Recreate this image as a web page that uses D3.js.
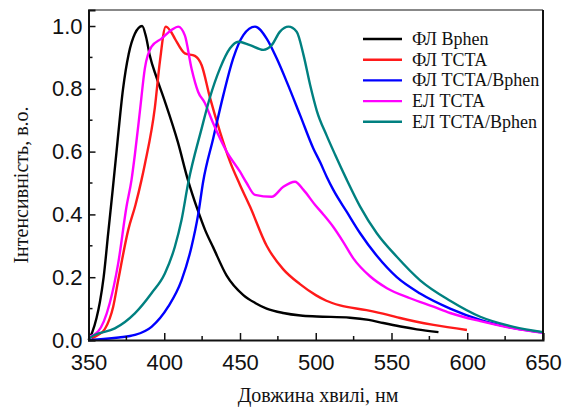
<!DOCTYPE html>
<html>
<head>
<meta charset="utf-8">
<script src="https://cdn.jsdelivr.net/npm/d3@7"></script>
<style>
  body { margin: 0; background: #fff; }
  .tick-label { font-family: "Liberation Sans", Arial, sans-serif; font-size: 22px; fill: #111; }
  .serif { font-family: "Liberation Serif", "Times New Roman", serif; fill: #111; }
</style>
</head>
<body>
<svg id="chart" width="568" height="409"></svg>
<script>
// spectra: [wavelength nm, intensity a.u.]
var flBphen = [[350,0.0],[352.5,0.025],[355.3,0.07],[357.5,0.12],[360,0.2],[363,0.34],[366,0.48],[368.5,0.6],[372.8,0.8],[376.5,0.91],[380.6,0.975],[385.4,1.0],[388,0.965],[390.5,0.905],[395,0.835],[400.4,0.76],[409,0.63],[415.6,0.51],[422,0.415],[427,0.35],[432.3,0.295],[441.2,0.205],[452.2,0.143],[460,0.118],[467.6,0.1],[478.5,0.086],[490,0.078],[500.7,0.075],[522.6,0.071],[535,0.064],[544.6,0.054],[556,0.043],[566.7,0.034],[581,0.025]];
var flTcta = [[352,0.005],[356,0.015],[360.8,0.035],[366.3,0.106],[369.6,0.19],[376.2,0.35],[381,0.43],[385,0.51],[387.2,0.56],[393.8,0.74],[397.1,0.886],[401,0.998],[404,0.985],[407,0.96],[413.6,0.913],[420.2,0.905],[424.7,0.875],[430,0.775],[436.8,0.663],[443.4,0.568],[450,0.494],[456.6,0.425],[467.6,0.3],[478.6,0.225],[489.6,0.178],[500,0.143],[507,0.125],[516,0.11],[533.5,0.095],[547,0.081],[555.7,0.07],[577.7,0.048],[599.8,0.032]];
var flTctaBphen = [[350,0.0],[360,0.003],[370,0.008],[380.6,0.016],[391.6,0.042],[402.6,0.106],[411.4,0.19],[418,0.297],[422.4,0.4],[425.7,0.505],[432.3,0.642],[439,0.78],[445.5,0.897],[452.2,0.971],[459.9,0.998],[467.6,0.96],[474.2,0.897],[480.8,0.823],[489.6,0.717],[498.4,0.61],[503,0.565],[507.2,0.52],[511.6,0.478],[520.5,0.408],[529.3,0.34],[540.3,0.268],[553.5,0.2],[568.9,0.148],[588.7,0.1],[608.6,0.064],[630.6,0.038],[650,0.024]];
var elTcta = [[350,0.01],[356.3,0.027],[364,0.117],[369.6,0.244],[375.1,0.425],[378.4,0.51],[380.6,0.59],[383.9,0.727],[387.2,0.865],[391.6,0.934],[398.2,0.96],[404.8,0.987],[409.2,0.998],[413.6,0.97],[418,0.865],[422.4,0.79],[426.8,0.755],[432.3,0.69],[441.2,0.6],[450,0.536],[454.4,0.5],[459.9,0.462],[470.9,0.456],[478.6,0.488],[486.3,0.504],[491.9,0.478],[499.6,0.43],[505,0.4],[511.6,0.36],[518.2,0.312],[524.8,0.26],[535.8,0.203],[547,0.165],[562.3,0.133],[577.7,0.106],[588.7,0.086],[608.6,0.06],[630.6,0.037],[650,0.023]];
var elTctaBphen = [[350,0.005],[354,0.016],[367.4,0.037],[380.6,0.085],[391.6,0.149],[400.4,0.212],[407,0.297],[411.4,0.382],[415.8,0.5],[424.7,0.674],[430,0.77],[436.8,0.865],[443.4,0.929],[448.9,0.95],[456.6,0.939],[465.4,0.924],[470.9,0.939],[476.4,0.982],[482,0.998],[487.4,0.982],[491.9,0.908],[496.3,0.812],[500.7,0.73],[507.3,0.65],[512.8,0.59],[520.5,0.51],[529.3,0.425],[540.3,0.34],[553.5,0.265],[568.9,0.19],[588.7,0.125],[608.6,0.074],[630.6,0.042],[650,0.025]];

var seriesNames = ["ФЛ Bphen", "ФЛ TCTA", "ФЛ TCTA/Bphen", "ЕЛ TCTA", "ЕЛ TCTA/Bphen"];
var seriesData = [flBphen, flTcta, flTctaBphen, elTcta, elTctaBphen];
var colors = ["#000000", "#ff1a1a", "#0000ff", "#ff00ff", "#008080"];
var xTicks = [350, 400, 450, 500, 550, 600, 650];
var yTicks = [0.0, 0.2, 0.4, 0.6, 0.8, 1.0];

var svg = d3.select("#chart");
// note: "top" is a reserved window property, so the plot box uses other names
var plotL = 88.5, plotR = 543, plotT = 10, plotB = 340;

var x = d3.scaleLinear().domain([350, 650]).range([plotL, plotR]);
var y = d3.scaleLinear().domain([0, 1.051]).range([plotB, plotT]);

var line = d3.line()
    .x(function(d) { return x(d[0]); })
    .y(function(d) { return y(d[1]); })
    .curve(d3.curveMonotoneX);

// curves
svg.append("g").selectAll("path")
    .data(seriesData)
    .enter().append("path")
    .attr("d", line)
    .attr("fill", "none")
    .attr("stroke", function(d, i) { return colors[i]; })
    .attr("stroke-width", 2.4)
    .attr("stroke-linejoin", "round");

// frame
svg.append("line").attr("x1", plotL).attr("x2", plotR).attr("y1", plotT).attr("y2", plotT)
    .attr("stroke", "#888").attr("stroke-width", 2);
svg.append("line").attr("x1", plotR).attr("x2", plotR).attr("y1", plotT).attr("y2", plotB)
    .attr("stroke", "#111").attr("stroke-width", 2);

// x axis, ticks inward
var xAxis = d3.axisBottom(x).tickValues(xTicks).tickSize(-7).tickPadding(14).tickFormat(d3.format("d"));
var gx = svg.append("g").attr("transform", "translate(0," + plotB + ")").call(xAxis);
gx.select(".domain").attr("stroke", "#111").attr("stroke-width", 2);
gx.selectAll(".tick line").attr("stroke", "#111").attr("stroke-width", 1.5);
gx.selectAll(".tick text").attr("class", "tick-label").attr("font-size", null).attr("font-family", null);
var xMinor = d3.range(375, 650, 50);
gx.selectAll(".minor").data(xMinor).enter().append("line")
    .attr("x1", function(d) { return x(d); }).attr("x2", function(d) { return x(d); })
    .attr("y1", 0).attr("y2", -4).attr("stroke", "#111").attr("stroke-width", 1.5);

// y axis
var yAxis = d3.axisLeft(y).tickValues(yTicks).tickSize(-7).tickPadding(6).tickFormat(d3.format(".1f"));
var gy = svg.append("g").attr("transform", "translate(" + plotL + ",0)").call(yAxis);
gy.select(".domain").attr("stroke", "#111").attr("stroke-width", 2);
gy.selectAll(".tick line").attr("stroke", "#111").attr("stroke-width", 1.5);
gy.selectAll(".tick text").attr("class", "tick-label").attr("font-size", null).attr("font-family", null);
var yMinor = [0.1, 0.3, 0.5, 0.7, 0.9];
gy.selectAll(".minor").data(yMinor).enter().append("line")
    .attr("y1", function(d) { return y(d); }).attr("y2", function(d) { return y(d); })
    .attr("x1", 0).attr("x2", 4).attr("stroke", "#111").attr("stroke-width", 1.5);

// axis titles
svg.append("text").attr("class", "serif")
    .attr("x", 318).attr("y", 402)
    .attr("text-anchor", "middle").attr("font-size", 20)
    .text("Довжина хвилі, нм");
svg.append("text").attr("class", "serif")
    .attr("transform", "translate(28,185)rotate(-90)")
    .attr("text-anchor", "middle").attr("font-size", 20)
    .text("Інтенсивність, в.о.");

// legend
var legend = svg.append("g").selectAll("g")
    .data(seriesNames)
    .enter().append("g")
    .attr("transform", function(d, i) { return "translate(363," + (39 + i * 20.7) + ")"; });
legend.append("line").attr("x1", 0).attr("x2", 39).attr("y1", 0).attr("y2", 0)
    .attr("stroke", function(d, i) { return colors[i]; }).attr("stroke-width", 2.4);
legend.append("text").attr("class", "serif")
    .attr("x", 49).attr("y", 6).attr("font-size", 18)
    .text(function(d) { return d; });
</script>
</body>
</html>
